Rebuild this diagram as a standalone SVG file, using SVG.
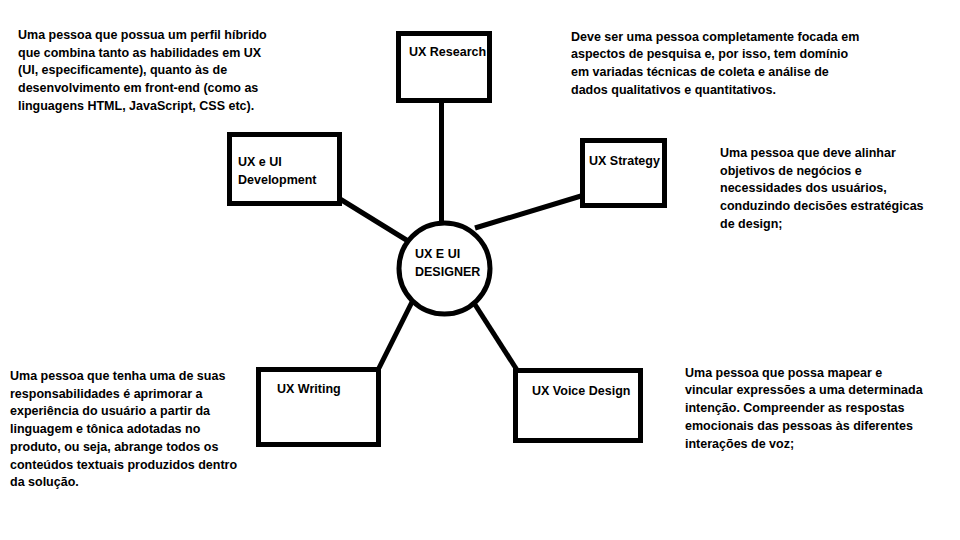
<svg xmlns="http://www.w3.org/2000/svg" width="960" height="540" viewBox="0 0 960 540">
<style>
.box{fill:#fff;stroke:#000;stroke-width:5}
.lbl{font-family:"Liberation Sans",Arial,sans-serif;font-weight:bold;font-size:12.5px;fill:#000}
.desc{font-family:"Liberation Sans",Arial,sans-serif;font-weight:bold;font-size:12.5px;fill:#000}
.con{stroke:#000;stroke-width:5;fill:none}
</style>
<rect width="960" height="540" fill="#fff"/>
<g id="connectors">
<line class="con" x1="441.5" y1="100" x2="441.5" y2="223"/>
<line class="con" x1="340" y1="199" x2="408" y2="241"/>
<line class="con" x1="581" y1="196" x2="475" y2="228"/>
<line class="con" x1="379" y1="368" x2="413" y2="300"/>
<line class="con" x1="474" y1="303" x2="517" y2="370"/>
</g>
<g id="node-center">
<circle class="box" cx="444.5" cy="268.5" r="45.5"/>
<text class="lbl" x="415" y="258">UX E UI</text>
<text class="lbl" x="415" y="276">DESIGNER</text>
</g>
<g id="node-research">
<rect class="box" x="398.5" y="33.5" width="91" height="67"/>
<text class="lbl" x="409" y="56">UX Research</text>
</g>
<g id="node-development">
<rect class="box" x="229.5" y="134.5" width="110" height="69"/>
<text class="lbl" x="238" y="166">UX e UI</text>
<text class="lbl" x="238" y="184">Development</text>
</g>
<g id="node-strategy">
<rect class="box" x="582.5" y="140.5" width="82" height="65"/>
<text class="lbl" x="589" y="165">UX Strategy</text>
</g>
<g id="node-writing">
<rect class="box" x="258.5" y="369.5" width="120" height="75"/>
<text class="lbl" x="277" y="393">UX Writing</text>
</g>
<g id="node-voice">
<rect class="box" x="515.5" y="370.5" width="125" height="70"/>
<text class="lbl" x="532" y="395">UX Voice Design</text>
</g>
<g id="desc-development">
<text class="desc" x="18" y="39">Uma pessoa que possua um perfil híbrido</text>
<text class="desc" x="18" y="56.7">que combina tanto as habilidades em UX</text>
<text class="desc" x="18" y="74.4">(UI, especificamente), quanto às de</text>
<text class="desc" x="18" y="92.1">desenvolvimento em front-end (como as</text>
<text class="desc" x="18" y="109.8">linguagens HTML, JavaScript, CSS etc).</text>
</g>
<g id="desc-research">
<text class="desc" x="571" y="40.5">Deve ser uma pessoa completamente focada em</text>
<text class="desc" x="571" y="58.2">aspectos de pesquisa e, por isso, tem domínio</text>
<text class="desc" x="571" y="75.9">em variadas técnicas de coleta e análise de</text>
<text class="desc" x="571" y="93.6">dados qualitativos e quantitativos.</text>
</g>
<g id="desc-strategy">
<text class="desc" x="720" y="157">Uma pessoa que deve alinhar</text>
<text class="desc" x="720" y="174.7">objetivos de negócios e</text>
<text class="desc" x="720" y="192.4">necessidades dos usuários,</text>
<text class="desc" x="720" y="210.1">conduzindo decisões estratégicas</text>
<text class="desc" x="720" y="227.8">de design;</text>
</g>
<g id="desc-writing">
<text class="desc" x="10" y="380">Uma pessoa que tenha uma de suas</text>
<text class="desc" x="10" y="397.7">responsabilidades é aprimorar a</text>
<text class="desc" x="10" y="415.4">experiência do usuário a partir da</text>
<text class="desc" x="10" y="433.1">linguagem e tônica adotadas no</text>
<text class="desc" x="10" y="450.8">produto, ou seja, abrange todos os</text>
<text class="desc" x="10" y="468.5">conteúdos textuais produzidos dentro</text>
<text class="desc" x="10" y="486.2">da solução.</text>
</g>
<g id="desc-voice">
<text class="desc" x="685" y="376.7">Uma pessoa que possa mapear e</text>
<text class="desc" x="685" y="394.4">vincular expressões a uma determinada</text>
<text class="desc" x="685" y="412.1">intenção. Compreender as respostas</text>
<text class="desc" x="685" y="429.8">emocionais das pessoas às diferentes</text>
<text class="desc" x="685" y="447.5">interações de voz;</text>
</g>
</svg>
